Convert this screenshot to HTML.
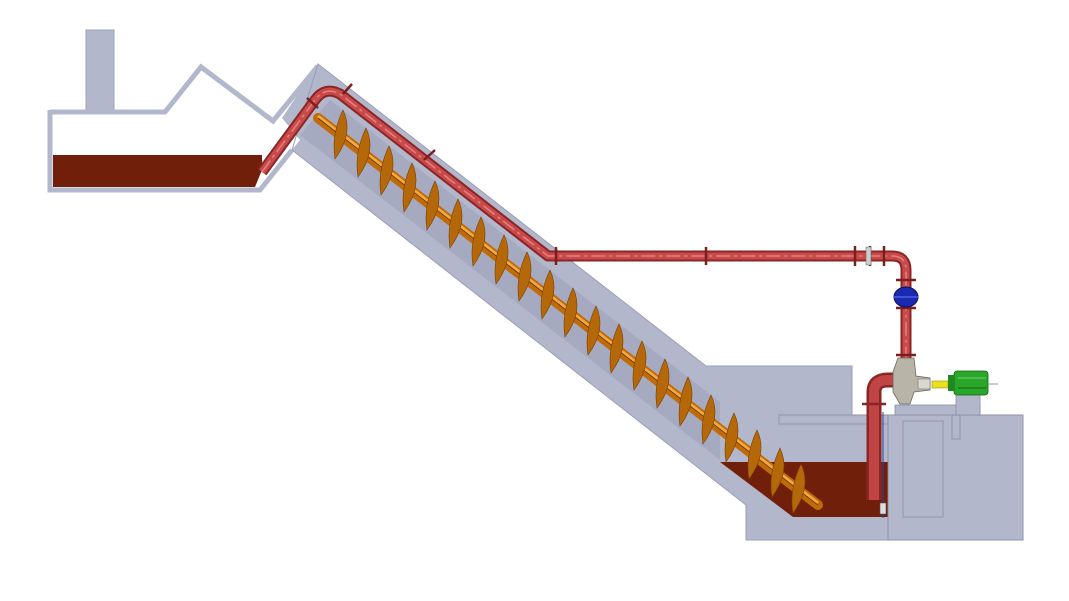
<!DOCTYPE html>
<html><head><meta charset="utf-8"><style>html,body{margin:0;padding:0;background:#fff}svg{display:block}</style></head>
<body>
<svg width="1069" height="601" viewBox="0 0 1069 601" xmlns="http://www.w3.org/2000/svg">
<defs><path id="bl" d="M3,-25 Q14,-2 -5,24 Q-9,0 3,-25Z"/></defs>
<rect x="86" y="30" width="28" height="82" fill="#b3b7cc" stroke="#9da1b8"/>
<polyline points="50,112 165,112 201,67 273,121 318,66" fill="none" stroke="#b3b7cc" stroke-width="5"/>
<polyline points="50,110 50,190 260,190 292,150" fill="none" stroke="#b3b7cc" stroke-width="5"/>
<polygon points="53,155 262,155 262,170 255,187 53,187" fill="#70200a"/>
<polygon points="318,64 706,366 852,366 852,415 1023,415 1023,540 746,540 746,505 292,150 300,140 282,118" fill="#b3b7cc"/>
<polygon points="330,100 720,402 720,460 300,135" fill="#a6aac0"/>
<polygon points="318,64 706,366 852,366 852,415 1023,415 1023,540 746,540 746,505 292,150" fill="none" stroke="#9a9eb5" stroke-width="1"/>
<polygon points="720,462 888,462 888,517 793,517" fill="#70200a"/>
<rect x="779" y="415" width="109" height="9" fill="#b3b7cc" stroke="#8a8ea4" stroke-width="0.8"/>
<rect x="888" y="415" width="135" height="125" fill="#b3b7cc" stroke="#8a8ea4" stroke-width="0.8"/>
<rect x="903" y="421" width="40" height="96" fill="none" stroke="#8a8ea4" stroke-width="0.8"/>
<rect x="952" y="415" width="8" height="24" fill="none" stroke="#8a8ea4" stroke-width="0.8"/>
<rect x="895" y="405" width="85" height="10" fill="#b3b7cc" stroke="#8a8ea4" stroke-width="0.8"/>
<rect x="956" y="393" width="24" height="22" fill="#b3b7cc" stroke="#8a8ea4" stroke-width="0.8"/>
<line x1="883" y1="412" x2="883" y2="518" stroke="#3040a0" stroke-width="1"/>
<rect x="880" y="503" width="6" height="11" fill="#ddd" stroke="#555" stroke-width="0.6"/>
<line x1="318" y1="118" x2="818" y2="505" stroke="#c06a08" stroke-width="10" stroke-linecap="round"/>
<line x1="318" y1="116" x2="818" y2="503" stroke="#f4a840" stroke-width="3"/>
<line x1="318" y1="118" x2="818" y2="505" stroke="#3a2000" stroke-width="0.6"/>
<g fill="#b5680a" stroke="#7a4000" stroke-width="0.6">
<use href="#bl" x="340" y="135"/><use href="#bl" x="363" y="153"/><use href="#bl" x="386" y="171"/>
<use href="#bl" x="409" y="188"/><use href="#bl" x="432" y="206"/><use href="#bl" x="455" y="224"/>
<use href="#bl" x="478" y="242"/><use href="#bl" x="501" y="260"/><use href="#bl" x="524" y="277"/>
<use href="#bl" x="547" y="295"/><use href="#bl" x="570" y="313"/><use href="#bl" x="593" y="331"/>
<use href="#bl" x="616" y="349"/><use href="#bl" x="639" y="366"/><use href="#bl" x="662" y="384"/>
<use href="#bl" x="685" y="402"/><use href="#bl" x="708" y="420"/><use href="#bl" x="731" y="438"/>
<use href="#bl" x="754" y="455"/><use href="#bl" x="777" y="473"/><use href="#bl" x="798" y="489"/>
</g>
<path d="M262,172 L315,100 Q325,86 340,94 L548,256 L892,256 Q906,256 906,270 L906,362" fill="none" stroke="#8a2626" stroke-width="11" stroke-linejoin="round"/>
<path d="M262,172 L315,100 Q325,86 340,94 L548,256 L892,256 Q906,256 906,270 L906,362" fill="none" stroke="#c84a4a" stroke-width="7" stroke-linejoin="round"/>
<path d="M262,172 L315,100 Q325,86 340,94 L548,256 L892,256 Q906,256 906,270 L906,362" fill="none" stroke="#e48080" stroke-width="1.5" stroke-dasharray="14,4,3,4" stroke-linejoin="round"/>
<path d="M874,500 L874,392 Q874,380 888,380 L900,380" fill="none" stroke="#8a2626" stroke-width="15"/>
<path d="M874,500 L874,392 Q874,380 888,380 L900,380" fill="none" stroke="#c04444" stroke-width="10"/>
<line x1="862" y1="404" x2="886" y2="404" stroke="#8a2626" stroke-width="2.5"/>
<g stroke="#7a1e1e" stroke-width="2.5">
<line x1="556" y1="247" x2="556" y2="265"/><line x1="706" y1="247" x2="706" y2="265"/>
<line x1="855" y1="246" x2="855" y2="266"/><line x1="870" y1="246" x2="870" y2="266"/><line x1="884" y1="246" x2="884" y2="266"/>
<line x1="896" y1="280" x2="916" y2="280"/><line x1="896" y1="308" x2="916" y2="308"/><line x1="896" y1="355" x2="916" y2="355"/>
<line x1="424" y1="160" x2="435" y2="150"/><line x1="343" y1="94" x2="352" y2="84"/><line x1="307" y1="98" x2="318" y2="108"/>
</g>
<rect x="866" y="247" width="5" height="18" fill="#ccc" stroke="#666" stroke-width="0.5"/>
<ellipse cx="906" cy="297" rx="12" ry="10" fill="#1a2ab0" stroke="#0a1060"/>
<line x1="894" y1="297" x2="918" y2="297" stroke="#5060e0" stroke-width="1.5"/>
<path d="M898,358 L914,358 L916,376 L930,378 L930,390 L914,392 L910,404 L900,404 L893,392 L893,372 Z" fill="#b8b4a8" stroke="#6a6860" stroke-width="0.8"/>
<rect x="918" y="379" width="12" height="10" fill="#d8d8d0" stroke="#666" stroke-width="0.5"/>
<rect x="932" y="381" width="16" height="7" fill="#e8e020" stroke="#a09010" stroke-width="0.6"/>
<rect x="954" y="371" width="34" height="24" rx="3" fill="#2aa62a" stroke="#106010" stroke-width="0.8"/>
<rect x="948" y="375" width="7" height="16" fill="#1e8a1e"/>
<line x1="958" y1="378" x2="986" y2="378" stroke="#70d070"/>
<line x1="958" y1="388" x2="986" y2="388" stroke="#106010"/>
<line x1="988" y1="384" x2="998" y2="384" stroke="#999"/>
</svg>
</body></html>
